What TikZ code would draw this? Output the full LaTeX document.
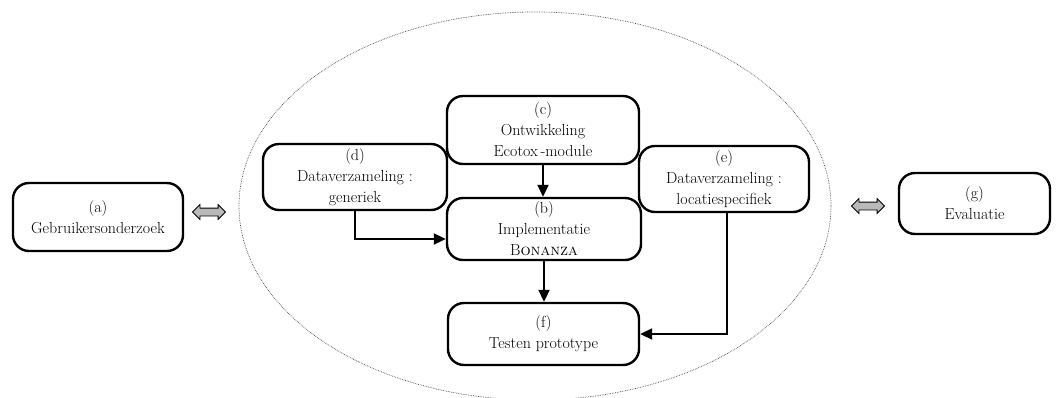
\documentclass[tikz,border=0pt]{standalone}
\usetikzlibrary{arrows.meta, shapes.arrows, positioning}
\tikzset{
  blok/.style={draw, line width=2.4pt, rounded corners=16pt, align=center, inner sep=1pt, font=\fontsize{16}{21}\selectfont},
  pijl/.style={line width=2pt, -{Triangle[length=12pt, width=11pt]}},
  wissel/.style={double arrow, draw, line width=0.8pt, fill=gray!55, minimum height=33pt, double arrow head extend=3.5pt, inner xsep=0pt, inner ysep=3.5pt}
}

\begin{document}
\begin{tikzpicture}[x=1pt, y=-1pt]
  \useasboundingbox (0,0) rectangle (1056,398);
  % omhullende ellips
  \draw[black!70, densely dotted, line width=0.7pt] (535,206) ellipse [x radius=296, y radius=194];

  \node[blok, minimum width=170pt, minimum height=68pt] (gebruik) at (98,217) {(a)\\Gebruikersonderzoek};
  \node[blok, minimum width=184pt, minimum height=66pt] (generiek) at (355,177) {(d)\\Dataverzameling :\\generiek};
  \node[blok, minimum width=192pt, minimum height=68pt] (ontw) at (543,130) {(c)\\Ontwikkeling\\Ecotox\,-module};
  \node[blok, minimum width=170pt, minimum height=66pt] (locatie) at (724,179) {(e)\\Dataverzameling :\\locatiespecifiek};
  \node[blok, minimum width=194pt, minimum height=62pt] (impl) at (544,229) {(b)\\Implementatie\\B\textsc{onanza}};
  \node[blok, minimum width=191pt, minimum height=62pt] (test) at (543.5,334) {(f)\\Testen prototype};
  \node[blok, minimum width=151pt, minimum height=61pt] (eval) at (974.5,203.5) {(g)\\Evaluatie};

  \node[wissel] (wisselL) at (209,212) {};
  \node[wissel] (wisselR) at (868,206) {};

  \draw[pijl] (ontw.south) -- (ontw.south |- impl.north);
  \draw[pijl] (impl.south) -- (impl.south |- test.north);
  \draw[pijl] (generiek.south) |- ([yshift=-10pt]impl.west);
  \draw[pijl] ([xshift=3pt]locatie.south) |- (test.east);
\end{tikzpicture}
\end{document}
